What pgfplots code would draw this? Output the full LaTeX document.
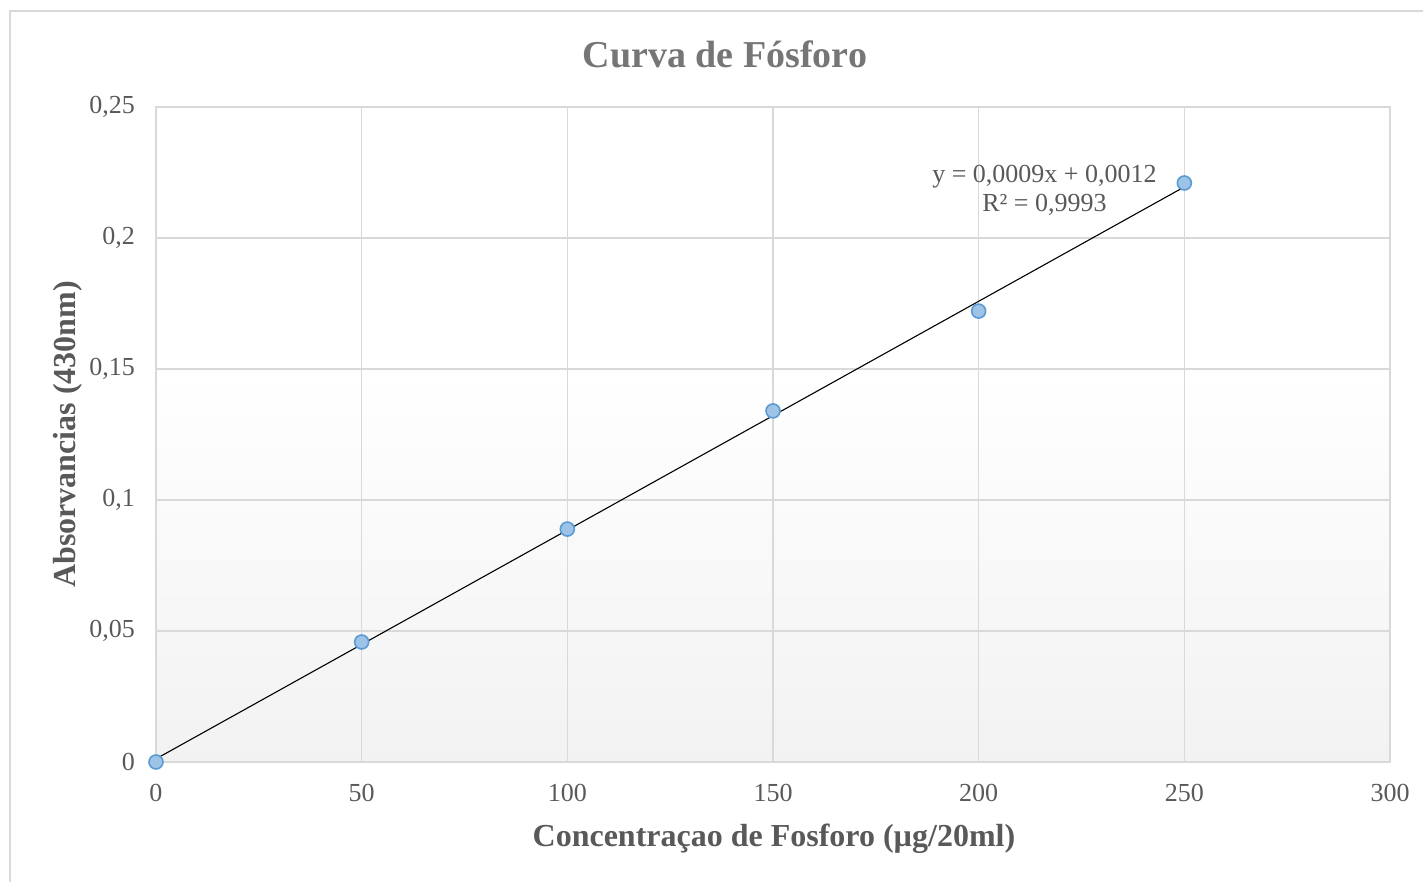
\documentclass[border=0pt]{standalone}
\usepackage{pgfplots}
\pgfplotsset{compat=1.18}
\usepackage{fontspec}
\setmainfont{Liberation Serif}
\definecolor{txt}{RGB}{89,89,89}
\definecolor{ttl}{RGB}{118,118,118}
\definecolor{gridc}{RGB}{217,217,217}
\definecolor{mfill}{RGB}{157,195,230}
\definecolor{medge}{RGB}{91,155,213}
\definecolor{bgbot}{RGB}{242,242,242}
\pgfdeclareverticalshading{plotbg}{100bp}{color(0bp)=(bgbot); color(25bp)=(bgbot); color(55bp)=(white); color(100bp)=(white)}
\begin{document}
\begin{tikzpicture}
\useasboundingbox (-78pt,-60pt) rectangle (633.5pt,381pt);
\draw[gridc, line width=0.6pt] (-73pt,-61pt) -- (-73pt,375.5pt) -- (634pt,375.5pt);
\begin{axis}[
  at={(0,0)}, anchor=south west, scale only axis,
  width=617pt, height=327.5pt,
  xmin=0, xmax=300, ymin=0, ymax=0.25,
  xtick={0,50,100,150,200,250,300},
  ytick={0,0.05,0.1,0.15,0.2,0.25},
  axis background/.style={shade, shading=plotbg},
  grid=major,
  major grid style={gridc, line width=0.75pt},
  axis line style={draw=gridc, line width=0.75pt},
  major tick length=0pt,
  clip=false,
  /pgf/number format/assume math mode=true,
  tick label style={font=\fontsize{13}{15}\selectfont, text=txt},
  yticklabel style={/pgf/number format/.cd, fixed, precision=2, use comma, /tikz/.cd, xshift=-7pt},
  xticklabel style={yshift=-7.5pt},
  title={Curva de Fósforo},
  title style={at={(axis description cs:0.4611,1.0427)}, anchor=base, font=\fontsize{19}{22}\selectfont\bfseries, text=ttl},
  xlabel={Concentraçao de Fosforo (µg/20ml)},
  xlabel style={at={(axis description cs:0.5008,-0.1297)}, anchor=base, font=\fontsize{16}{19}\selectfont\bfseries, text=txt},
  ylabel={Absorvancias (430nm)},
  ylabel style={at={(axis description cs:-0.0656,0.5)}, anchor=base, rotate=0, font=\fontsize{16}{19}\selectfont\bfseries, text=txt},
]
\addplot[only marks, mark=*, mark size=3.5pt, mark options={fill=mfill, draw=medge, line width=0.8pt}]
  coordinates {(0,0) (50,0.0458) (100,0.0889) (150,0.134) (200,0.1721) (250,0.221)};
\addplot[black, line width=0.55pt] coordinates {(0,0.0012) (250,0.2195)};
\node[anchor=base, font=\fontsize{13}{15}\selectfont, text=txt] at (axis cs:216,0.221) {y = 0,0009x + 0,0012};
\node[anchor=base, font=\fontsize{13}{15}\selectfont, text=txt] at (axis cs:216,0.2103) {R² = 0,9993};
\end{axis}
\end{tikzpicture}
\end{document}
